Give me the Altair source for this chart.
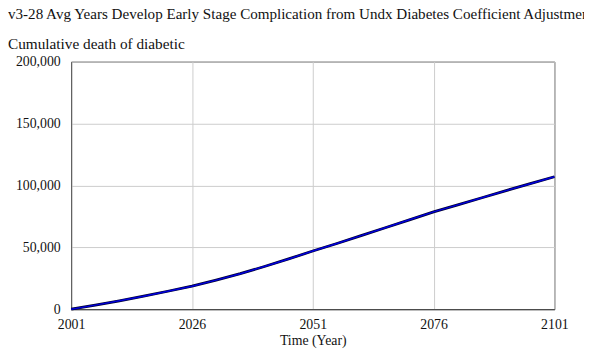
import altair as alt
import pandas as pd

years = [2001, 2006, 2011, 2016, 2021, 2026, 2031, 2036, 2041, 2046, 2051,
         2056, 2061, 2066, 2071, 2076, 2081, 2086, 2091, 2096, 2101]
deaths = [0, 3300, 6800, 10500, 14500, 18600, 23500, 28700, 34500, 40600, 47000,
          53100, 59400, 65800, 72200, 78600, 84300, 90000, 95800, 101400, 107000]
x_ticks = [2001, 2026, 2051, 2076, 2101]
y_ticks = [0, 50000, 100000, 150000, 200000]

title_text = "v3-28 Avg Years Develop Early Stage Complication from Undx Diabetes Coefficient Adjustment"
subtitle_text = "Cumulative death of diabetic"

df = pd.DataFrame({"Year": years, "Deaths": deaths})

FONT = "Liberation Serif"

x = alt.X("Year:Q", scale=alt.Scale(domain=[2001, 2101], nice=False, zero=False),
          axis=alt.Axis(values=x_ticks, format="d", title="Time (Year)", ticks=False,
                        labelPadding=9, titlePadding=2, grid=True, gridColor="#cccccc",
                        domainColor="#333333", labelFlush=False))
y = alt.Y("Deaths:Q", scale=alt.Scale(domain=[0, 200000], nice=False),
          axis=alt.Axis(values=y_ticks, format=",d", title=None, ticks=False,
                        labelPadding=11, grid=True, gridColor="#cccccc",
                        domainColor="#555555"))

base = alt.Chart(df).encode(x=x, y=y)
outer = base.mark_line(color="#000030", strokeWidth=2.8)
inner = base.mark_line(color="#0000dd", strokeWidth=1.5)

chart = (outer + inner).properties(
    width=490, height=251,
    autosize=alt.AutoSizeParams(type="none"),
    padding={"left": 64, "top": 52, "right": 30, "bottom": 39},
    title=alt.Title(text=title_text, subtitle=subtitle_text, anchor="start",
                    frame="group", dx=-64, offset=2),
).configure(font=FONT).configure_view(
    stroke="#444444", strokeWidth=1
).configure_axis(
    labelFont=FONT, titleFont=FONT, labelFontSize=14, titleFontSize=14,
    titleFontWeight="normal", labelColor="#111111", titleColor="#111111"
).configure_title(
    font=FONT, fontSize=15.3, fontWeight="normal", color="#111111",
    subtitleFont=FONT, subtitleFontSize=15.5, subtitleColor="#111111",
    subtitlePadding=15
)

chart.save("out.html", embed_options={"renderer": "svg", "actions": False})
